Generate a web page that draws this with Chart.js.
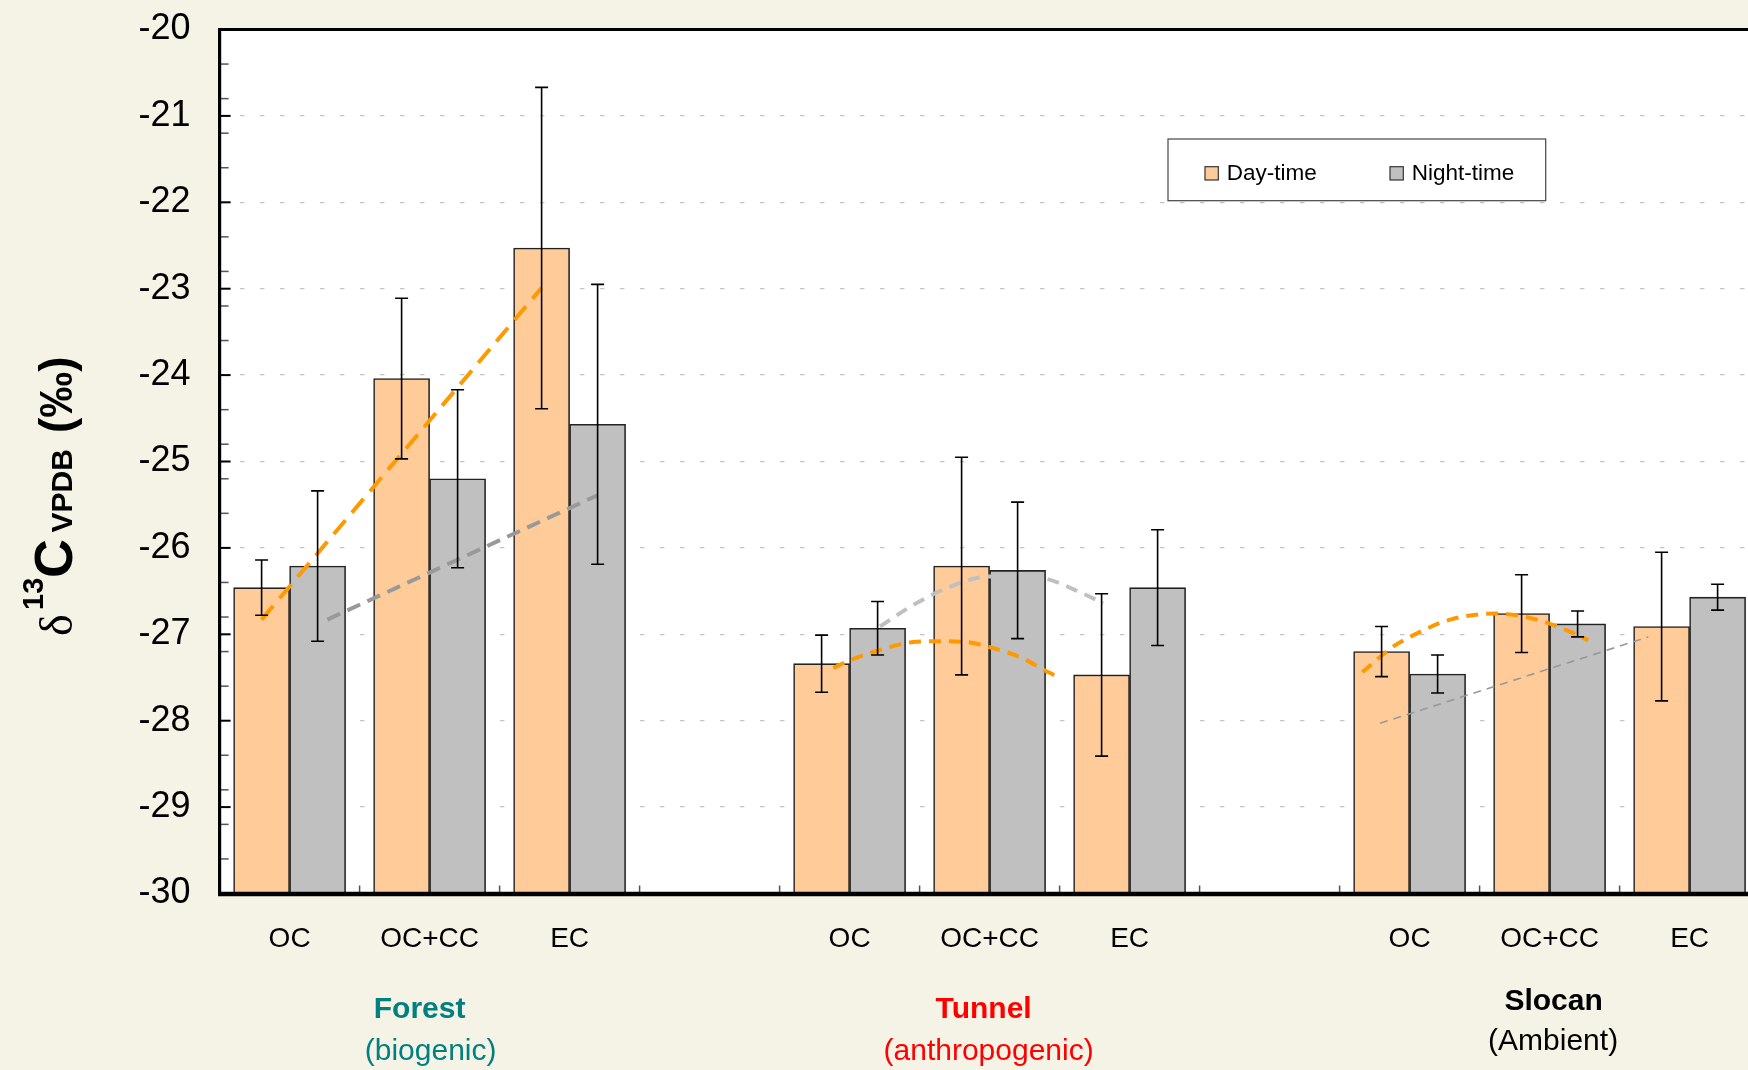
<!DOCTYPE html>
<html>
<head>
<meta charset="utf-8">
<script src="https://cdn.jsdelivr.net/npm/chart.js@4.4.1/dist/chart.umd.min.js"></script>
<style>
  html, body { margin: 0; padding: 0; overflow: hidden; background: #F5F3E5; }
  #wrap { position: absolute; left: 0; top: 0; width: 1780px; height: 1070px; }
</style>
</head>
<body>
<div id="wrap"><canvas id="c" width="1780" height="1070"></canvas></div>
<script>
// ---- data ----
const categories = ['OC', 'OC+CC', 'EC', '', 'OC', 'OC+CC', 'EC', '', 'OC', 'OC+CC', 'EC'];
const seriesNames = ['Day-time', 'Night-time'];

const dayMeans    = [-26.46, -24.04, -22.53, null, -27.34, -26.21, -27.47, null, -27.20, -26.76, -26.91];
const dayErrors   = [0.32, 0.93, 1.86, null, 0.33, 1.26, 0.94, null, 0.29, 0.45, 0.86];
const nightMeans  = [-26.21, -25.20, -24.57, null, -26.93, -26.26, -26.46, null, -27.46, -26.88, -26.57];
const nightErrors = [0.87, 1.03, 1.62, null, 0.31, 0.79, 0.67, null, 0.22, 0.15, 0.15];

const groupNames   = ['Forest', 'Tunnel', 'Slocan'];
const groupSources = ['(biogenic)', '(anthropogenic)', '(Ambient)'];
const groupCenters = [1, 5, 9];   // category index under which each site name sits

// trend lines, x in category units (day bars sit at i-0.2, night bars at i+0.2)
const forestDayTrendX   = [-0.2, 1.8];
const forestDayTrendY   = [-26.83, -22.99];
const forestNightTrendX = [0.27, 2.2];
const forestNightTrendY = [-26.83, -25.39];
const tunnelDayTrendX   = [3.884, 4.003, 4.196, 4.455, 4.622, 4.836, 5.002, 5.24, 5.384, 5.498];
const tunnelDayTrendY   = [-27.39, -27.30, -27.19, -27.09, -27.08, -27.09, -27.15, -27.28, -27.41, -27.50];
const tunnelNightTrendX = [4.217, 4.455, 4.717, 4.991, 5.194, 5.384, 5.669, 5.812];
const tunnelNightTrendY = [-26.91, -26.66, -26.45, -26.33, -26.33, -26.35, -26.53, -26.64];
const slocanDayTrendX   = [7.662, 7.884, 8.003, 8.289, 8.622, 8.908, 9.146, 9.276];
const slocanDayTrendY   = [-27.44, -27.14, -27.03, -26.83, -26.76, -26.83, -26.97, -27.07];
const slocanNightTrendX = [7.789, 9.705];
const slocanNightTrendY = [-28.03, -27.03];

const yMin = -30, yMax = -20;

// ---- styles ----
const SANS = "'Liberation Sans', Arial, Helvetica, sans-serif";
const DAY_FILL = '#FFCC99', NIGHT_FILL = '#C0C0C0';
const TREND_ORANGE = '#FF9900';

function pts(xs, ys) { return xs.map((x, i) => ({ x: x, y: ys[i] })); }

function trend(xs, ys, color, width, dash, curved) {
  return {
    type: 'line', xAxisID: 'xl', yAxisID: 'y', order: 0,
    data: pts(xs, ys), borderColor: color, borderWidth: width, borderDash: dash,
    pointRadius: 0, fill: false, tension: curved ? 0.4 : 0,
    cubicInterpolationMode: curved ? 'monotone' : 'default', isTrend: true
  };
}

// ---- plugins ----
const backdrop = {
  id: 'backdrop',
  beforeDraw(chart) {
    const { ctx, chartArea: a } = chart;
    ctx.save();
    ctx.fillStyle = '#F5F3E5';
    ctx.fillRect(0, 0, chart.width, chart.height);
    ctx.fillStyle = '#FFFFFF';
    ctx.fillRect(a.left, a.top, a.right - a.left, a.bottom - a.top);
    ctx.restore();
  }
};

const errorBars = {
  id: 'errorBars',
  afterDatasetsDraw(chart) {
    const ctx = chart.ctx, ys = chart.scales.y;
    ctx.save();
    ctx.strokeStyle = '#000';
    ctx.lineWidth = 1.6;
    chart.data.datasets.forEach((ds, di) => {
      if (!ds.errors) return;
      const meta = chart.getDatasetMeta(di);
      meta.data.forEach((bar, i) => {
        const v = ds.data[i], e = ds.errors[i];
        if (v == null || e == null) return;
        const x = bar.x;
        const yt = ys.getPixelForValue(v + e), yb = ys.getPixelForValue(v - e);
        ctx.beginPath();
        ctx.moveTo(x, yt); ctx.lineTo(x, yb);
        ctx.moveTo(x - 6.5, yt); ctx.lineTo(x + 6.5, yt);
        ctx.moveTo(x - 6.5, yb); ctx.lineTo(x + 6.5, yb);
        ctx.stroke();
      });
    });
    ctx.restore();
  }
};

const frame = {
  id: 'frame',
  afterDatasetsDraw(chart) {
    const { ctx, chartArea: a } = chart;
    const ys = chart.scales.y, xs = chart.scales.xl;
    ctx.save();
    // minor ticks every 0.4 on the inside of the value axis
    ctx.strokeStyle = '#555';
    ctx.lineWidth = 1.5;
    for (let k = 1; k < 25; k++) {
      const v = yMax - 0.4 * k;
      if (Math.abs(v - Math.round(v)) < 1e-6) continue;
      const py = ys.getPixelForValue(v);
      ctx.beginPath(); ctx.moveTo(a.left, py); ctx.lineTo(a.left + 9, py); ctx.stroke();
    }
    // major ticks
    ctx.strokeStyle = '#000';
    ctx.lineWidth = 2;
    for (let v = yMin + 1; v < yMax; v++) {
      const py = ys.getPixelForValue(v);
      ctx.beginPath(); ctx.moveTo(a.left, py); ctx.lineTo(a.left + 11, py); ctx.stroke();
    }
    // category boundary ticks along the base
    ctx.strokeStyle = '#555';
    ctx.lineWidth = 1.5;
    for (let i = 0; i < categories.length - 1; i++) {
      const px = xs.getPixelForValue(i + 0.5);
      ctx.beginPath(); ctx.moveTo(px, a.bottom); ctx.lineTo(px, a.bottom - 8); ctx.stroke();
    }
    // axis frame
    ctx.strokeStyle = '#000';
    ctx.lineWidth = 3.2;
    ctx.beginPath();
    ctx.moveTo(a.right + 5, a.top); ctx.lineTo(a.left, a.top); ctx.lineTo(a.left, a.bottom + 2);
    ctx.stroke();
    ctx.lineWidth = 4.5;
    ctx.beginPath();
    ctx.moveTo(a.left - 1.6, a.bottom + 0.5); ctx.lineTo(a.right + 5, a.bottom + 0.5);
    ctx.stroke();
    ctx.restore();
  }
};

const annotations = {
  id: 'annotations',
  afterDraw(chart) {
    const ctx = chart.ctx, xs = chart.scales.x;
    ctx.save();

    // legend
    ctx.fillStyle = '#FFFFFF';
    ctx.fillRect(1168, 139, 377.7, 61.7);
    ctx.strokeStyle = '#444';
    ctx.lineWidth = 1.2;
    ctx.strokeRect(1168, 139, 377.7, 61.7);
    const bars = chart.data.datasets.filter(d => !d.isTrend);
    const swatchX = [1205, 1390];
    ctx.font = '22.5px ' + SANS;
    ctx.textBaseline = 'alphabetic';
    ctx.textAlign = 'left';
    bars.forEach((d, i) => {
      ctx.fillStyle = d.backgroundColor;
      ctx.fillRect(swatchX[i], 166.7, 13.3, 13.3);
      ctx.strokeStyle = '#333';
      ctx.lineWidth = 1.2;
      ctx.strokeRect(swatchX[i], 166.7, 13.3, 13.3);
      ctx.fillStyle = '#000';
      ctx.fillText(d.label, swatchX[i] + 21.7, 180);
    });

    // site names under the category labels
    const colors = ['#008080', '#FF0000', '#000000'];
    const nameDx = [-10, -6, 4], srcDx = [1, -1, 3.5];
    const nameY = [1018, 1018, 1010], srcY = [1060, 1060, 1050];
    ctx.textAlign = 'center';
    groupNames.forEach((name, g) => {
      const cx = xs.getPixelForValue(groupCenters[g]);
      ctx.fillStyle = colors[g];
      ctx.font = 'bold 30px ' + SANS;
      ctx.fillText(name, cx + nameDx[g], nameY[g]);
      ctx.font = '30px ' + SANS;
      ctx.fillText(groupSources[g], cx + srcDx[g], srcY[g]);
    });

    // value axis title: δ13C(VPDB) (‰)
    ctx.translate(71.7, 635);
    ctx.rotate(-Math.PI / 2);
    ctx.textAlign = 'left';
    ctx.fillStyle = '#000';
    ctx.font = "46px 'Liberation Serif', 'DejaVu Serif', serif";
    ctx.fillText('\u03B4', -1, 0);
    ctx.font = 'bold 29px ' + SANS;
    ctx.fillText('13', 25, -28.4);
    ctx.font = 'bold 54px ' + SANS;
    ctx.fillText('C', 57, 0);
    ctx.font = 'bold 30px ' + SANS;
    ctx.fillText('VPDB', 102.5, 0);
    ctx.font = 'bold 46px ' + SANS;
    ctx.fillText('(\u2030)', 202, 0);

    ctx.restore();
  }
};

// ---- chart ----
new Chart(document.getElementById('c'), {
  type: 'bar',
  data: {
    labels: categories,
    datasets: [
      trend(forestDayTrendX, forestDayTrendY, TREND_ORANGE, 4, [18, 10], false),
      trend(forestNightTrendX, forestNightTrendY, '#999999', 4, [14, 8], false),
      trend(tunnelDayTrendX, tunnelDayTrendY, TREND_ORANGE, 4, [12, 8], true),
      trend(tunnelNightTrendX, tunnelNightTrendY, '#C0C0C0', 4, [12, 8], true),
      trend(slocanDayTrendX, slocanDayTrendY, TREND_ORANGE, 4, [12, 8], true),
      trend(slocanNightTrendX, slocanNightTrendY, '#999999', 1.6, [8, 6], false),
      {
        label: seriesNames[0], data: dayMeans, errors: dayErrors, base: yMin, order: 1,
        xAxisID: 'x', yAxisID: 'y',
        backgroundColor: DAY_FILL, borderColor: '#222', borderWidth: 1.6, borderSkipped: 'start',
        barThickness: 56
      },
      {
        label: seriesNames[1], data: nightMeans, errors: nightErrors, base: yMin, order: 1,
        xAxisID: 'x', yAxisID: 'y',
        backgroundColor: NIGHT_FILL, borderColor: '#222', borderWidth: 1.6, borderSkipped: 'start',
        barThickness: 56
      }
    ]
  },
  options: {
    responsive: false,
    animation: false,
    devicePixelRatio: 1,
    events: [],
    layout: { padding: { top: 29.5, right: 1780 - 1759.6, left: 0, bottom: 0 } },
    plugins: { legend: { display: false }, tooltip: { enabled: false } },
    scales: {
      x: {
        type: 'category',
        offset: true,
        grid: { display: false, drawTicks: false },
        border: { display: false },
        ticks: {
          autoSkip: false, maxRotation: 0, padding: 29,
          color: '#000', font: { family: SANS, size: 28 }
        },
        afterFit: s => { s.height = 1070 - 893.5; s.paddingLeft = 0; s.paddingRight = 0; }
      },
      xl: {
        type: 'linear', display: false, offset: false,
        min: -0.5, max: 10.5,
        grid: { offset: false }
      },
      y: {
        type: 'linear',
        min: yMin, max: yMax,
        grid: {
          drawTicks: false,
          lineWidth: 1.3,
          color: c => (c.tick && (c.tick.value === yMin || c.tick.value === yMax)) ? 'rgba(0,0,0,0)' : '#C4C4C4'
        },
        border: { display: false, dash: [4.5, 15.5] },
        ticks: {
          stepSize: 1, padding: 29,
          color: '#000', font: { family: SANS, size: 36 }
        },
        afterFit: s => { s.width = 219.6; s.paddingTop = 0; s.paddingBottom = 0; }
      }
    }
  },
  plugins: [backdrop, errorBars, frame, annotations]
});
</script>
</body>
</html>
